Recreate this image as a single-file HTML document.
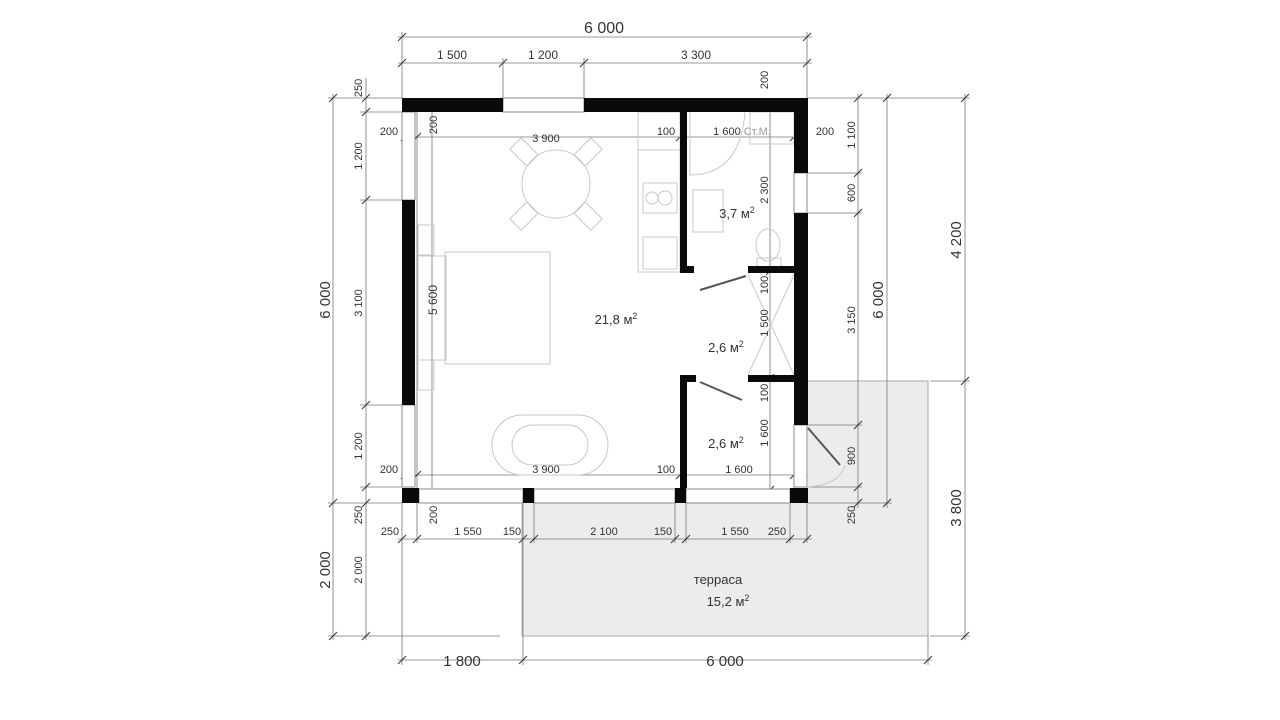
<!DOCTYPE html>
<html><head><meta charset="utf-8"><style>
html,body{margin:0;padding:0;background:#fff;}
svg{display:block;}
text{font-family:"Liberation Sans","Noto Sans CJK SC",sans-serif;fill:#333;}
</style></head><body>
<svg width="1280" height="720" viewBox="0 0 1280 720" xmlns="http://www.w3.org/2000/svg">
<defs>
<g id="t"><line x1="-4" y1="4" x2="4" y2="-4" stroke="#333" stroke-width="1"/></g>
</defs>
<!-- terrace -->
<rect x="522" y="381" width="406" height="255" fill="#ececec" stroke="#aaa" stroke-width="1"/>
<!-- house interior -->
<rect x="402" y="98" width="406" height="405" fill="#fff"/>

<!-- dimension lines -->
<g stroke="#777" stroke-width="0.8" fill="none">
<line x1="398" y1="37" x2="812" y2="37"/>
<line x1="398" y1="63" x2="812" y2="63"/>
<line x1="402" y1="32" x2="402" y2="98"/>
<line x1="503" y1="58" x2="503" y2="98"/>
<line x1="584" y1="58" x2="584" y2="98"/>
<line x1="807" y1="32" x2="807" y2="98"/>
<line x1="333" y1="94" x2="333" y2="640"/>
<line x1="366" y1="78" x2="366" y2="640"/>
<line x1="328" y1="98" x2="402" y2="98"/>
<line x1="360" y1="112" x2="402" y2="112"/>
<line x1="360" y1="200" x2="402" y2="200"/>
<line x1="360" y1="405" x2="402" y2="405"/>
<line x1="360" y1="487" x2="402" y2="487"/>
<line x1="328" y1="503" x2="402" y2="503"/>
<line x1="328" y1="636" x2="500" y2="636"/>
<line x1="858" y1="94" x2="858" y2="508"/>
<line x1="887" y1="94" x2="887" y2="508"/>
<line x1="965" y1="94" x2="965" y2="640"/>
<line x1="808" y1="98" x2="970" y2="98"/>
<line x1="808" y1="173" x2="862" y2="173"/>
<line x1="808" y1="213" x2="862" y2="213"/>
<line x1="808" y1="425" x2="862" y2="425"/>
<line x1="808" y1="487" x2="862" y2="487"/>
<line x1="808" y1="503" x2="892" y2="503"/>
<line x1="930" y1="381" x2="970" y2="381"/>
<line x1="930" y1="636" x2="970" y2="636"/>
<line x1="398" y1="539" x2="812" y2="539"/>
<line x1="398" y1="660" x2="932" y2="660"/>
<line x1="402" y1="503" x2="402" y2="665"/>
<line x1="417" y1="503" x2="417" y2="543"/>
<line x1="523" y1="503" x2="523" y2="665"/>
<line x1="534" y1="503" x2="534" y2="543"/>
<line x1="675" y1="503" x2="675" y2="543"/>
<line x1="686" y1="503" x2="686" y2="543"/>
<line x1="790" y1="503" x2="790" y2="543"/>
<line x1="807" y1="503" x2="807" y2="543"/>
<line x1="928" y1="636" x2="928" y2="665"/>
<!-- interior dims -->
<line x1="402" y1="137" x2="808" y2="137"/>
<line x1="402" y1="475" x2="808" y2="475"/>
<line x1="416" y1="490" x2="808" y2="490"/>
<line x1="432" y1="112" x2="432" y2="503"/>
<line x1="417" y1="112" x2="417" y2="503"/>
<line x1="770" y1="112" x2="770" y2="503"/>
</g>
<g>
<use href="#t" x="402" y="37"/><use href="#t" x="807" y="37"/>
<use href="#t" x="402" y="63"/><use href="#t" x="503" y="63"/><use href="#t" x="584" y="63"/><use href="#t" x="807" y="63"/>
<use href="#t" x="333" y="98"/><use href="#t" x="333" y="503"/><use href="#t" x="333" y="636"/>
<use href="#t" x="366" y="98"/><use href="#t" x="366" y="112"/><use href="#t" x="366" y="200"/><use href="#t" x="366" y="405"/><use href="#t" x="366" y="487"/><use href="#t" x="366" y="503"/><use href="#t" x="366" y="636"/>
<use href="#t" x="858" y="98"/><use href="#t" x="858" y="173"/><use href="#t" x="858" y="213"/><use href="#t" x="858" y="425"/><use href="#t" x="858" y="487"/><use href="#t" x="858" y="503"/>
<use href="#t" x="887" y="98"/><use href="#t" x="887" y="503"/>
<use href="#t" x="965" y="98"/><use href="#t" x="965" y="381"/><use href="#t" x="965" y="636"/>
<use href="#t" x="402" y="539"/><use href="#t" x="417" y="539"/><use href="#t" x="523" y="539"/><use href="#t" x="534" y="539"/><use href="#t" x="675" y="539"/><use href="#t" x="686" y="539"/><use href="#t" x="790" y="539"/><use href="#t" x="807" y="539"/>
<use href="#t" x="402" y="660"/><use href="#t" x="523" y="660"/><use href="#t" x="928" y="660"/>
<use href="#t" x="405" y="137"/><use href="#t" x="417" y="137"/><use href="#t" x="680" y="137"/><use href="#t" x="794" y="137"/>
<use href="#t" x="405" y="475"/><use href="#t" x="417" y="475"/><use href="#t" x="680" y="475"/><use href="#t" x="794" y="475"/>
<use href="#t" x="770" y="271"/><use href="#t" x="770" y="378"/><use href="#t" x="770" y="490"/>
</g>

<!-- furniture (light) -->
<g stroke="#c8c8c8" stroke-width="1" fill="none">
<circle cx="556" cy="184" r="34"/>
<rect x="-12" y="-8" width="24" height="16" transform="translate(524 152) rotate(45)"/>
<rect x="-12" y="-8" width="24" height="16" transform="translate(588 152) rotate(-45)"/>
<rect x="-12" y="-8" width="24" height="16" transform="translate(524 216) rotate(-45)"/>
<rect x="-12" y="-8" width="24" height="16" transform="translate(588 216) rotate(45)"/>
<rect x="445" y="252" width="105" height="112"/>
<rect x="418" y="256" width="28" height="104"/>
<rect x="418" y="225" width="16" height="30"/><rect x="418" y="360" width="16" height="30"/>
<rect x="492" y="415" width="116" height="60" rx="30"/>
<rect x="512" y="425" width="76" height="40" rx="20"/>
<rect x="638" y="112" width="42" height="160"/>
<line x1="638" y1="150" x2="680" y2="150"/>
<rect x="643" y="183" width="34" height="30"/>
<circle cx="652" cy="198" r="6"/><circle cx="665" cy="198" r="7"/>
<rect x="643" y="237" width="34" height="32"/>
<path d="M690 112 V175 Q740 175 745 112"/>
<rect x="693" y="190" width="30" height="42"/>
<ellipse cx="768" cy="245" rx="12" ry="16"/>
<rect x="757" y="258" width="24" height="10"/>
<rect x="750" y="112" width="44" height="32"/>
<line x1="748" y1="275" x2="794" y2="375"/><line x1="794" y1="275" x2="748" y2="375"/>
<path d="M807 487 Q840 485 845 465" />
</g>

<!-- windows -->
<g stroke="#888" stroke-width="1" fill="#fff">
<rect x="503" y="98" width="81" height="14"/>
<rect x="402" y="112" width="13" height="88"/>
<rect x="402" y="405" width="13" height="82"/>
<rect x="794" y="173" width="13" height="40"/>
<rect x="419" y="489" width="104" height="14"/>
<rect x="534" y="489" width="141" height="14"/>
<rect x="686" y="489" width="104" height="14"/>
<rect x="794" y="425" width="13" height="62"/>
</g>

<!-- walls -->
<g fill="#0a0a0a">
<rect x="402" y="98" width="101" height="14"/>
<rect x="584" y="98" width="224" height="14"/>
<rect x="402" y="98" width="13" height="14"/>
<rect x="402" y="200" width="13" height="205"/>
<rect x="794" y="98" width="14" height="75"/>
<rect x="794" y="213" width="14" height="212"/>
<rect x="402" y="488" width="17" height="15"/>
<rect x="523" y="488" width="11" height="15"/>
<rect x="675" y="488" width="11" height="15"/>
<rect x="790" y="488" width="18" height="15"/>
<rect x="680" y="112" width="7" height="160"/>
<rect x="680" y="266" width="14" height="7"/>
<rect x="748" y="266" width="46" height="7"/>
<rect x="680" y="375" width="7" height="113"/>
<rect x="680" y="375" width="16" height="7"/>
<rect x="748" y="375" width="46" height="7"/>
</g>
<!-- doors -->
<g stroke="#555" stroke-width="2" fill="none">
<line x1="700" y1="290" x2="746" y2="276"/>
<line x1="700" y1="382" x2="742" y2="400"/>
<line x1="808" y1="428" x2="840" y2="465"/>
</g>

<!-- labels -->
<g font-size="12" text-anchor="middle">
<text x="604" y="33" font-size="16">6 000</text>
<text x="452" y="59">1 500</text>
<text x="543" y="59">1 200</text>
<text x="696" y="59">3 300</text>
<text x="546" y="142" font-size="11">3 900</text>
<text x="666" y="135" font-size="11">100</text>
<text x="742" y="135" font-size="11">1 600 <tspan fill="#999">Ст.М.</tspan></text>
<text x="389" y="135" font-size="11">200</text>
<text x="825" y="135" font-size="11">200</text>
<text x="389" y="473" font-size="11">200</text>
<text x="546" y="473" font-size="11">3 900</text>
<text x="666" y="473" font-size="11">100</text>
<text x="739" y="473" font-size="11">1 600</text>
<text x="616" y="324" font-size="13">21,8 м<tspan font-size="9" dy="-5">2</tspan></text>
<text x="737" y="218" font-size="13">3,7 м<tspan font-size="9" dy="-5">2</tspan></text>
<text x="726" y="352" font-size="13">2,6 м<tspan font-size="9" dy="-5">2</tspan></text>
<text x="726" y="448" font-size="13">2,6 м<tspan font-size="9" dy="-5">2</tspan></text>
<text x="718" y="584" font-size="13">терраса</text>
<text x="728" y="606" font-size="13">15,2 м<tspan font-size="9" dy="-5">2</tspan></text>
<text x="390" y="535" font-size="11">250</text>
<text x="468" y="535" font-size="11">1 550</text>
<text x="512" y="535" font-size="11">150</text>
<text x="604" y="535" font-size="11">2 100</text>
<text x="663" y="535" font-size="11">150</text>
<text x="735" y="535" font-size="11">1 550</text>
<text x="777" y="535" font-size="11">250</text>
<text x="462" y="666" font-size="15">1 800</text>
<text x="725" y="666" font-size="15">6 000</text>
</g>
<g font-size="11" text-anchor="middle">
<text transform="translate(362 88) rotate(-90)">250</text>
<text transform="translate(362 156) rotate(-90)">1 200</text>
<text transform="translate(362 303) rotate(-90)">3 100</text>
<text transform="translate(362 446) rotate(-90)">1 200</text>
<text transform="translate(362 515) rotate(-90)">250</text>
<text transform="translate(362 570) rotate(-90)">2 000</text>
<text transform="translate(330 300) rotate(-90)" font-size="15">6 000</text>
<text transform="translate(330 570) rotate(-90)" font-size="15">2 000</text>
<text transform="translate(437 125) rotate(-90)">200</text>
<text transform="translate(437 515) rotate(-90)">200</text>
<text transform="translate(437 300) rotate(-90)" font-size="12">5 600</text>
<text transform="translate(768 190) rotate(-90)">2 300</text>
<text transform="translate(768 285) rotate(-90)">100</text>
<text transform="translate(768 323) rotate(-90)">1 500</text>
<text transform="translate(768 393) rotate(-90)">100</text>
<text transform="translate(768 433) rotate(-90)">1 600</text>
<text transform="translate(768 80) rotate(-90)">200</text>
<text transform="translate(855 135) rotate(-90)">1 100</text>
<text transform="translate(855 193) rotate(-90)">600</text>
<text transform="translate(855 320) rotate(-90)">3 150</text>
<text transform="translate(855 456) rotate(-90)">900</text>
<text transform="translate(855 515) rotate(-90)">250</text>
<text transform="translate(883 300) rotate(-90)" font-size="15">6 000</text>
<text transform="translate(961 240) rotate(-90)" font-size="15">4 200</text>
<text transform="translate(961 508) rotate(-90)" font-size="15">3 800</text>
</g>
</svg>
</body></html>
